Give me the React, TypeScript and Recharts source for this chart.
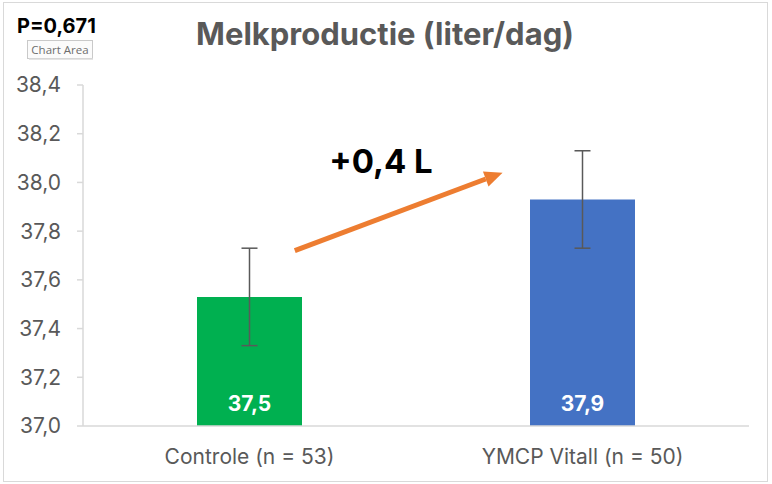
import React from "react";
import { BarChart, Bar, XAxis, YAxis, ErrorBar, LabelList, Cell } from "recharts";

const categories = ["Controle (n = 53)", "YMCP Vitall (n = 50)"];
const means = [37.53, 37.93];
const errors = [0.2, 0.2];
const barColors = ["#00B050", "#4472C4"];
const yTicks = [37.0, 37.2, 37.4, 37.6, 37.8, 38.0, 38.2, 38.4];
const title = "Melkproductie (liter/dag)";
const pValue = "P=0,671";
const diffLabel = "+0,4 L";
const arrowFrom = 37.72;
const arrowTo = 38.04;

const data = categories.map((name, i) => ({ name, value: means[i], err: errors[i] }));

const W = 772;
const H = 484;
const M = { top: 85, right: 23, bottom: 0, left: 0 };
const Y_W = 83;
const X_H = 58;
const plotLeft = M.left + Y_W;
const plotTop = M.top;
const plotW = W - M.right - plotLeft;
const plotH = H - M.bottom - X_H - plotTop;
const yMin = yTicks[0];
const yMax = yTicks[yTicks.length - 1];
const yPx = (v: number) => plotTop + ((yMax - v) / (yMax - yMin)) * plotH;

const fmt = (v: number) => v.toFixed(1).replace(".", ",");
const FONT = "Inter, 'Open Sans', sans-serif";

export default function App() {
  const ax1 = plotLeft + plotW * 0.318;
  const ax2 = plotLeft + plotW * 0.63;
  const ay1 = yPx(arrowFrom);
  const ay2 = yPx(arrowTo);
  const ang = Math.atan2(ay2 - ay1, ax2 - ax1);
  const headL = 18;
  const headW = 8;
  const bx = ax2 - headL * Math.cos(ang);
  const by = ay2 - headL * Math.sin(ang);
  const px = -Math.sin(ang) * headW;
  const py = Math.cos(ang) * headW;
  return (
    <div style={{ position: "absolute", left: 0, top: 0, width: W, height: H, background: "#fff" }}>
      <div
        style={{
          position: "absolute",
          left: 3,
          top: 2,
          width: 763,
          height: 478,
          border: "1px solid #d9d9d9",
        }}
      />
      <BarChart width={W} height={H} data={data} margin={M} barSize={105}>
        <XAxis
          dataKey="name"
          height={X_H}
          axisLine={{ stroke: "#d9d9d9", strokeWidth: 1.5 }}
          tickLine={false}
          tickSize={0}
          tickMargin={23}
          tick={{ fill: "#595959", fontSize: 21, fontFamily: FONT }}
        />
        <YAxis
          width={Y_W}
          domain={[yMin, yMax]}
          ticks={yTicks}
          interval={0}
          tickFormatter={fmt}
          axisLine={{ stroke: "#d9d9d9", strokeWidth: 1.5 }}
          tickLine={{ stroke: "#d9d9d9", strokeWidth: 1.5 }}
          tickSize={6}
          tickMargin={16}
          tick={{ fill: "#595959", fontSize: 21, fontFamily: FONT }}
          allowDataOverflow
        />
        <Bar dataKey="value" isAnimationActive={false}>
          {data.map((d, i) => (
            <Cell key={d.name} fill={barColors[i]} />
          ))}
          <ErrorBar dataKey="err" width={8} stroke="#595959" strokeWidth={1.5} />
          <LabelList
            dataKey="value"
            position="insideBottom"
            offset={15}
            formatter={(v: any) => fmt(Number(v))}
            style={{ fill: "#ffffff", fontSize: 21, fontWeight: 700, fontFamily: FONT }}
          />
        </Bar>
      </BarChart>
      <svg
        width={W}
        height={H}
        style={{ position: "absolute", left: 0, top: 0, pointerEvents: "none" }}
      >
        <text
          x={385}
          y={45}
          textAnchor="middle"
          fill="#595959"
          fontSize={31}
          fontWeight={700}
          fontFamily={FONT}
        >
          {title}
        </text>
        <text x={17} y={33} fill="#000" fontSize={20} fontWeight={700} fontFamily={FONT}>
          {pValue}
        </text>
        <rect x={27.5} y={40.5} width={65} height={18} fill="#fbfbfb" stroke="#c9c9c9" />
        <rect x={29} y={58.5} width={64} height={1.5} fill="#e4e4e4" />
        <text x={60} y={54} textAnchor="middle" fill="#6d6d6d" fontSize={11.5} fontFamily="'Open Sans', sans-serif">
          Chart Area
        </text>
        <text x={381} y={173} textAnchor="middle" fill="#000" fontSize={33} fontWeight={700} fontFamily={FONT}>
          {diffLabel}
        </text>
        <line x1={ax1} y1={ay1} x2={bx} y2={by} stroke="#ED7D31" strokeWidth={5} />
        <polygon
          points={`${ax2},${ay2} ${bx + px},${by + py} ${bx - px},${by - py}`}
          fill="#ED7D31"
        />
      </svg>
    </div>
  );
}
